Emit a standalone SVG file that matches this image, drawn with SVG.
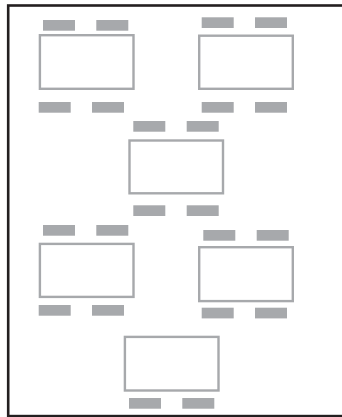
<svg xmlns="http://www.w3.org/2000/svg" width="342" height="417" viewBox="0 0 342 417">
<style>
.frame{fill:none;stroke:#231f20;stroke-width:2.6}
.table{fill:#ffffff;stroke:#a7a9ac;stroke-width:2.4}
.chair{fill:#a7a9ac}
</style>
<rect width="342" height="417" fill="#ffffff"/>
<rect class="frame" x="8.2" y="5.5" width="345" height="410.6"/>
<g id="table1">
<rect class="chair" x="43" y="20" width="32" height="10.7"/>
<rect class="chair" x="96.3" y="20" width="32" height="10.7"/>
<rect class="table" x="39.9" y="35.2" width="93.6" height="53.6"/>
<rect class="chair" x="38.7" y="102" width="32" height="10.7"/>
<rect class="chair" x="92" y="102" width="32" height="10.7"/>
</g>
<g id="table2">
<rect class="chair" x="201.7" y="17.3" width="32" height="10.7"/>
<rect class="chair" x="255" y="17.3" width="32" height="10.7"/>
<rect class="table" x="199.2" y="35.7" width="93.6" height="53.1"/>
<rect class="chair" x="201.7" y="102" width="32" height="10.7"/>
<rect class="chair" x="255" y="102" width="32" height="10.7"/>
</g>
<g id="table3">
<rect class="chair" x="133.3" y="121" width="32" height="10.7"/>
<rect class="chair" x="186.7" y="121" width="32" height="10.7"/>
<rect class="table" x="129.5" y="140.5" width="93.5" height="52.8"/>
<rect class="chair" x="133.3" y="205.3" width="32" height="10.7"/>
<rect class="chair" x="186.7" y="205.3" width="32" height="10.7"/>
</g>
<g id="table4">
<rect class="chair" x="43" y="225" width="32" height="10.7"/>
<rect class="chair" x="96.3" y="225" width="32" height="10.7"/>
<rect class="table" x="39.9" y="243.9" width="93.6" height="53"/>
<rect class="chair" x="38.7" y="305" width="32" height="10.7"/>
<rect class="chair" x="92" y="305" width="32" height="10.7"/>
</g>
<g id="table5">
<rect class="chair" x="203.3" y="230" width="32" height="10.7"/>
<rect class="chair" x="256.7" y="230" width="32" height="10.7"/>
<rect class="table" x="199.2" y="247.2" width="93.6" height="53.9"/>
<rect class="chair" x="201.7" y="307.7" width="32" height="10.7"/>
<rect class="chair" x="255" y="307.7" width="32" height="10.7"/>
</g>
<g id="table6">
<rect class="table" x="124.9" y="336.9" width="93.6" height="53.6"/>
<rect class="chair" x="129" y="398" width="32" height="10.7"/>
<rect class="chair" x="182.3" y="398" width="32" height="10.7"/>
</g>
<g id="connectors"/>
</svg>
